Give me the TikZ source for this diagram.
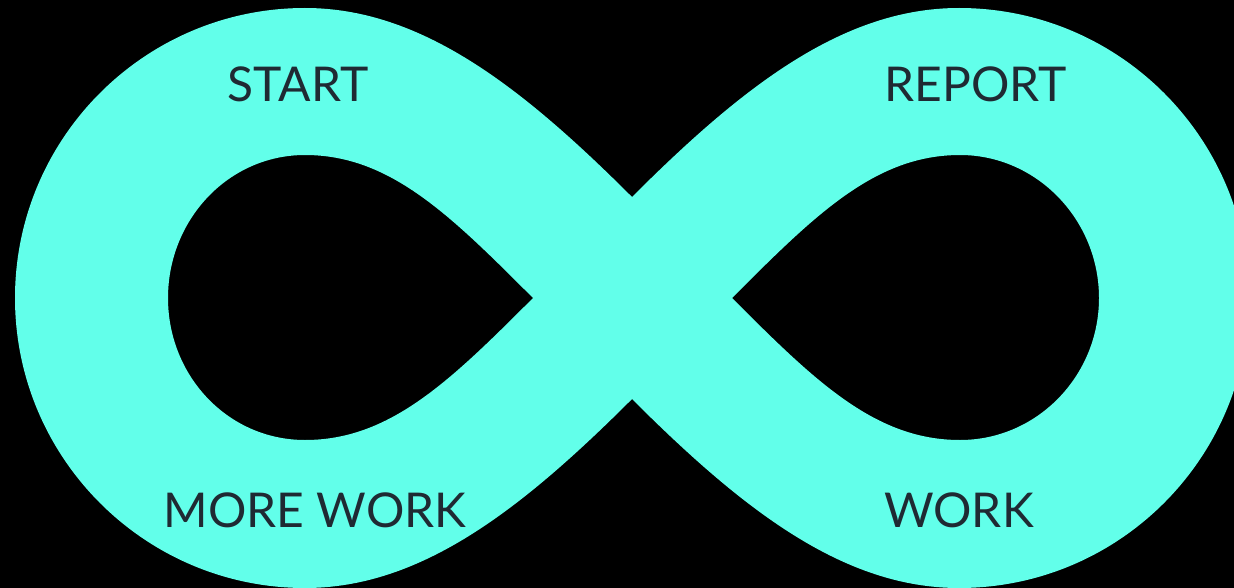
\documentclass[tikz,border=0pt]{standalone}
\usepackage{fontspec}
\setmainfont{Lato}
\usetikzlibrary{positioning}
\definecolor{loopcyan}{HTML}{62FFEA}
\definecolor{labelink}{HTML}{1F2A33}

\begin{document}
\begin{tikzpicture}[x=0.02cm, y=-0.02cm,
    band/.style={fill=loopcyan, even odd rule},
    lbl/.style={text=labelink, font=\fontsize{27.3}{29}\selectfont, inner sep=0pt, anchor=base}]
    \fill[black] (0,0) rectangle (1234,588);
    \useasboundingbox (0,0) rectangle (1234,588);
    % outer outline of the loop, then the two holes
    \path[band]
      (632,197) .. controls (520,85) and (420,8) .. (305,8)
                .. controls (145,8) and (15,138) .. (15,298)
                .. controls (15,458) and (145,588) .. (305,588)
                .. controls (420,588) and (520,511) .. (632,399)
                .. controls (744,511) and (844,588) .. (959,588)
                .. controls (1119,588) and (1249,458) .. (1249,298)
                .. controls (1249,138) and (1119,8) .. (959,8)
                .. controls (844,8) and (744,85) .. cycle
      (533,298) .. controls (450,215) and (390,155) .. (305,155)
                .. controls (228,155) and (168,220) .. (168,298)
                .. controls (168,376) and (228,440) .. (305,440)
                .. controls (390,440) and (450,381) .. cycle
      (732,298) .. controls (815,215) and (875,155) .. (960,155)
                .. controls (1037,155) and (1099,220) .. (1099,298)
                .. controls (1099,376) and (1037,440) .. (960,440)
                .. controls (875,440) and (815,381) .. cycle;
    \node[lbl] (start)  at (298,102) {START};
    \node[lbl] (report) at (976,102) {REPORT};
    \node[lbl] (more)   at (315,527) {MORE WORK};
    \node[lbl] (work)   at (959,527) {WORK};
\end{tikzpicture}
\end{document}
